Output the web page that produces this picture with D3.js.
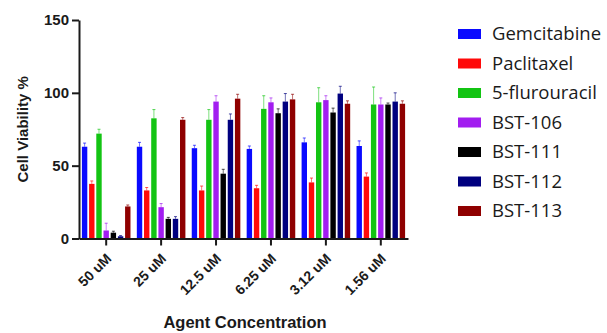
<!DOCTYPE html>
<html>
<head>
<meta charset="utf-8">
<script src="https://cdn.jsdelivr.net/npm/d3@7"></script>
<style>
  body { margin: 0; background: #fff; }
  svg text { font-family: "Liberation Sans", Arial, sans-serif; }
  .axis path, .axis line { stroke: #1a1a1a; stroke-width: 2px; }
  .axis text { font-weight: bold; font-size: 15px; fill: #1a1a1a; }
  .legend text { font-family: "Open Sans", sans-serif; font-size: 18.5px; fill: #1a1a1a; }
</style>
</head>
<body>
<div id="chart"></div>
<script>
var concentrations = ["50 uM", "25 uM", "12.5 uM", "6.25 uM", "3.12 uM", "1.56 uM"];
var agents = ["Gemcitabine", "Paclitaxel", "5-flurouracil", "BST-106", "BST-111", "BST-112", "BST-113"];
var agentColors = ["#0a0aff", "#ff0a0a", "#13c413", "#a21df0", "#000000", "#00007f", "#8f0000"];

// mean viability per agent, one value per concentration
var gemcitabine = [63, 63, 62, 61.5, 66, 63.5];
var paclitaxel = [37.5, 33, 33, 34.5, 38.5, 42.5];
var fluorouracil = [72, 82.5, 81.5, 89, 93.5, 92];
var bst106 = [5.5, 21.5, 94, 93.5, 95, 92];
var bst111 = [4, 13.5, 44.5, 86, 86.5, 92];
var bst112 = [1.5, 13.5, 81.5, 94, 99.5, 94];
var bst113 = [22, 81.5, 96, 95.5, 92.5, 92.5];

// upper error (SD)
var gemcitabineErr = [2.5, 3, 2, 2, 3, 3.5];
var paclitaxelErr = [2, 2, 3, 2, 3, 2.5];
var fluorouracilErr = [3, 6, 7, 9, 10, 12];
var bst106Err = [5, 2.5, 4, 3, 3, 4.5];
var bst111Err = [1, 1, 3, 3, 3, 1];
var bst112Err = [0.5, 1.5, 4, 5.5, 5, 6];
var bst113Err = [1, 1.5, 3, 3.5, 2, 2];

var yTicks = [0, 50, 100, 150];

var means = [gemcitabine, paclitaxel, fluorouracil, bst106, bst111, bst112, bst113];
var errs = [gemcitabineErr, paclitaxelErr, fluorouracilErr, bst106Err, bst111Err, bst112Err, bst113Err];

var width = 607, height = 333;
var plotLeft = 79, plotRight = 408, plotTop = 20, plotBottom = 238.5;

var svg = d3.select("#chart").append("svg")
  .attr("width", width)
  .attr("height", height);

var x0 = d3.scaleBand().domain(concentrations).range([plotLeft, plotRight]).paddingInner(0.05).paddingOuter(0.02);
var x1 = d3.scaleBand().domain(agents).range([0, x0.bandwidth()]).padding(0.25);
var y = d3.scaleLinear().domain([0, 150]).range([plotBottom, plotTop]);

var rows = [];
concentrations.forEach(function(c, i) {
  agents.forEach(function(a, j) {
    rows.push({conc: c, agent: a, j: j, v: means[j][i], e: errs[j][i]});
  });
});

/* bars */
var bars = svg.append("g").attr("class", "bars");
bars.selectAll("rect")
  .data(rows).enter()
  .append("rect")
  .attr("x", d => x0(d.conc) + x1(d.agent))
  .attr("y", d => y(d.v))
  .attr("width", x1.bandwidth())
  .attr("height", d => y(0) - y(d.v))
  .attr("fill", d => agentColors[d.j]);

/* error bars, upper only */
var cx = d => x0(d.conc) + x1(d.agent) + x1.bandwidth() / 2;
var eb = svg.append("g").attr("class", "errors");
eb.selectAll("line.stem")
  .data(rows).enter()
  .append("line")
  .attr("x1", cx)
  .attr("x2", cx)
  .attr("y1", d => y(d.v))
  .attr("y2", d => y(d.v + d.e))
  .attr("stroke", d => agentColors[d.j])
  .attr("stroke-opacity", 0.55)
  .attr("stroke-width", 1);
eb.selectAll("line.cap")
  .data(rows).enter()
  .append("line")
  .attr("x1", d => cx(d) - 1.5)
  .attr("x2", d => cx(d) + 1.5)
  .attr("y1", d => y(d.v + d.e))
  .attr("y2", d => y(d.v + d.e))
  .attr("stroke", d => agentColors[d.j])
  .attr("stroke-opacity", 0.7)
  .attr("stroke-width", 1);

/* axes */
var yAxis = d3.axisLeft(y).tickValues(yTicks).tickSize(7).tickSizeOuter(0).tickPadding(3);
svg.append("g")
  .attr("class", "y axis")
  .attr("transform", `translate(${plotLeft}, 0)`)
  .call(yAxis);

var xAxis = d3.axisBottom(x0).tickSize(7).tickSizeOuter(0);
var gx = svg.append("g")
  .attr("class", "x axis")
  .attr("transform", `translate(0, ${plotBottom})`)
  .call(xAxis);
gx.selectAll("text")
  .attr("text-anchor", "end")
  .attr("x", 0).attr("y", 0)
  .attr("dx", 0).attr("dy", 0)
  .attr("transform", "translate(6, 21) rotate(-45)")
  .style("font-size", "14px");

svg.append("text")
  .attr("transform", `translate(28, ${(plotTop + plotBottom) / 2}) rotate(-90)`)
  .attr("text-anchor", "middle")
  .style("font-weight", "bold")
  .style("font-size", "15px")
  .attr("fill", "#1a1a1a")
  .text("Cell Viability %");

svg.append("text")
  .attr("x", 245)
  .attr("y", 328)
  .attr("text-anchor", "middle")
  .style("font-weight", "bold")
  .style("font-size", "16.5px")
  .attr("fill", "#1a1a1a")
  .text("Agent Concentration");

/* legend */
var legend = svg.append("g").attr("class", "legend")
  .selectAll("g")
  .data(agents).enter()
  .append("g")
  .attr("transform", (d, i) => `translate(458, ${34 + i * 29.5})`);
legend.append("rect")
  .attr("x", 0).attr("y", -5)
  .attr("width", 23).attr("height", 10)
  .attr("fill", (d, i) => agentColors[i]);
legend.append("text")
  .attr("x", 34)
  .attr("dy", "0.35em")
  .text(d => d);
</script>
</body>
</html>
